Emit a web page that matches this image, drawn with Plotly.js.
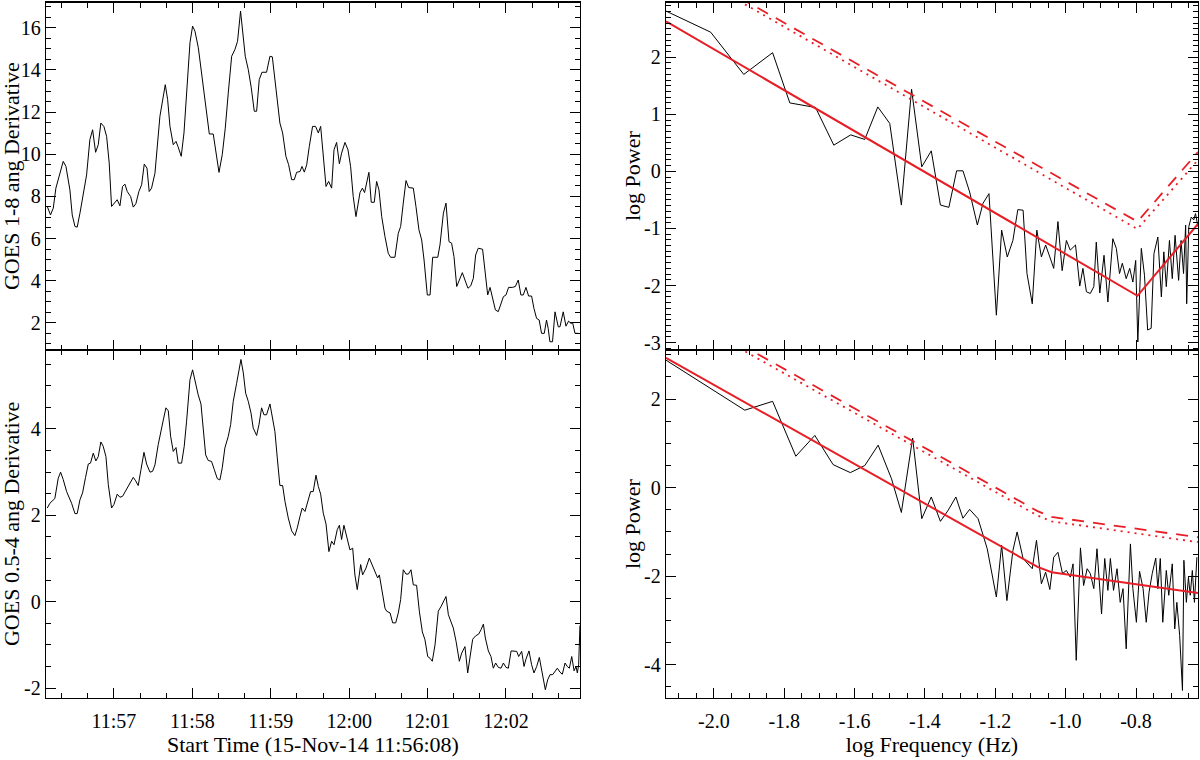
<!DOCTYPE html>
<html>
<head>
<meta charset="utf-8">
<script src="https://cdn.plot.ly/plotly-3.0.1.min.js"></script>
<style>
  body { margin: 0; background: #fff; }
  #chart { width: 1200px; height: 760px; }
</style>
</head>
<body>
<div id="chart"></div>
<script>
// GOES 1-8 ang derivative, seconds after 11:56:08
var topTime = [1.0,3.5,5.6,7.6,13.2,15.3,18.3,20.1,22.2,23.9,26.0,28.0,31.1,33.6,35.7,38.0,40.0,42.0,44.3,46.4,48.4,50.2,54.5,56.6,58.6,60.4,62.2,64.8,66.8,68.8,71.1,73.2,75.2,77.3,79.0,80.8,83.4,87.2,89.2,91.3,93.1,94.9,97.4,99.5,101.0,103.5,105.6,107.6,110.2,112.2,114.0,116.6,118.6,120.9,122.9,125.0,128.0,130.1,132.4,134.9,137.2,139.5,142.1,144.6,146.6,148.9,150.7,152.5,154.8,157.1,159.4,161.2,163.2,165.3,168.8,171.4,173.2,175.2,177.3,179.0,181.1,183.6,185.7,188.0,190.0,191.8,194.4,195.9,197.7,199.5,201.5,204.0,206.3,208.4,210.2,212.2,214.3,216.3,218.6,220.4,222.4,224.5,226.2,228.8,231.1,233.1,235.1,237.2,240.3,242.1,243.8,247.1,248.9,251.2,253.0,254.8,256.9,259.4,261.9,263.7,267.0,269.6,271.4,273.4,275.5,277.5,281.1,283.1,285.4,287.5,289.3,291.8,293.9,295.9,299.8,301.5,304.1,306.1,308.4,310.4,312.2,314.3,316.3,318.6,320.6,322.9,325.0,327.0,328.8,330.8,334.1,335.9,338.0,339.8,341.8,343.9,346.1,347.9,350.0,352.0,354.0,356.8,359.1,361.4,363.4,365.2,367.3,369.3,371.6,373.4,375.4,377.4,379.2,381.3,383.0,384.3,385.6,387.6,389.5,392.0,393.3,395.8,397.9,399.9,401.7,403.0,404.8,407.3];
var topDeriv = [7.52,7.12,7.44,8.39,9.66,9.42,8.31,7.12,6.57,6.54,7.20,7.84,9.02,10.69,11.16,10.09,10.45,11.48,11.32,10.85,9.58,7.52,7.84,7.55,8.47,8.58,8.23,7.99,7.49,7.65,8.23,8.55,9.53,9.34,8.23,8.39,9.10,11.80,12.59,13.30,12.59,11.32,10.45,10.61,10.37,9.90,11.01,12.91,15.29,16.08,15.84,15.05,14.10,13.07,12.11,10.96,10.96,10.05,9.14,9.98,11.24,12.91,14.65,14.97,15.36,16.79,15.76,14.65,14.02,13.15,12.04,12.04,13.54,13.89,13.89,14.65,14.62,13.54,12.12,11.48,11.01,9.90,9.50,8.79,8.79,9.14,9.18,9.42,9.15,9.50,10.37,11.32,11.32,11.01,11.32,9.90,8.47,8.71,8.39,10.21,10.56,9.55,10.05,10.56,10.21,9.42,7.99,7.04,8.18,8.39,8.18,9.14,7.72,7.72,8.71,8.31,7.04,6.09,5.30,5.11,5.11,6.25,6.57,7.68,8.75,8.42,8.39,7.52,6.41,5.93,4.98,3.32,3.32,5.11,5.11,5.70,7.20,7.68,5.85,5.78,5.14,3.72,4.03,4.38,4.03,3.64,3.75,4.11,5.22,5.54,5.49,4.35,3.32,3.68,3.08,2.61,2.53,2.84,3.24,3.32,3.68,3.68,3.72,4.03,3.32,3.32,3.68,3.27,3.27,2.68,2.21,2.13,1.50,1.50,2.13,1.73,1.10,1.10,2.52,1.81,1.81,2.52,1.84,2.08,1.97,2.00,1.50,1.50];

// GOES 0.5-4 ang derivative
var botTime = [1.0,3.0,6.8,9.4,11.2,13.2,15.8,17.8,19.6,22.2,23.9,26.0,28.0,30.3,32.4,34.1,36.2,38.2,40.0,42.0,43.8,45.9,47.7,50.2,52.0,54.5,56.6,58.6,60.7,63.0,64.8,66.8,68.6,70.6,72.7,75.0,77.0,79.6,81.6,83.4,85.9,87.7,89.8,91.8,93.6,95.4,97.4,99.5,101.2,103.8,105.8,107.6,110.2,112.2,114.2,116.5,118.6,120.4,122.2,124.2,126.7,128.8,131.1,133.1,134.9,136.9,139.5,141.3,143.3,145.9,147.9,149.2,151.0,152.8,154.8,156.9,158.6,161.2,163.0,165.0,166.8,168.8,171.4,173.2,175.2,177.0,179.0,181.1,182.9,185.4,188.0,190.5,192.3,194.4,196.1,198.2,200.7,202.5,204.5,206.6,208.4,210.2,212.2,214.3,216.5,218.6,220.4,222.9,224.5,226.2,228.0,230.1,232.6,234.7,236.4,238.2,240.8,242.3,244.9,247.4,249.5,251.8,253.8,255.1,257.4,259.4,260.7,263.3,265.3,267.6,269.6,271.4,273.4,275.5,277.3,279.3,281.1,283.6,285.7,288.0,290.0,292.1,293.9,295.6,297.7,300.2,302.3,304.6,306.1,307.9,309.7,311.7,313.8,316.3,318.1,320.6,322.7,324.4,326.5,328.8,331.1,332.9,334.7,336.2,338.5,340.5,342.3,344.1,346.1,348.2,350.0,352.0,353.8,355.9,357.7,360.2,361.7,364.0,365.8,367.3,369.6,371.6,373.4,375.5,377.5,379.3,381.3,382.1,383.9,385.7,387.7,389.5,391.3,393.3,395.1,397.2,398.9,400.5,402.3,404.1,405.6,406.6,407.6,408.6];
var botDeriv = [2.17,2.28,2.39,2.86,3.00,2.83,2.55,2.42,2.28,2.04,2.04,2.36,2.52,2.88,3.19,3.21,3.44,3.26,3.36,3.70,3.60,3.36,2.71,2.17,2.25,2.49,2.42,2.44,2.55,2.69,2.75,2.88,2.80,2.69,3.06,3.46,3.19,3.00,3.02,3.17,3.64,3.87,4.21,4.49,4.42,3.83,3.48,3.57,3.21,3.21,3.60,4.18,5.14,5.37,5.06,4.79,4.58,4.02,3.40,3.27,3.25,3.06,2.85,2.82,3.10,3.56,3.83,4.10,4.64,5.06,5.41,5.61,5.30,4.83,4.64,4.37,4.02,3.85,4.10,4.49,4.33,4.33,4.58,4.25,3.94,3.33,2.69,2.69,2.32,1.94,1.64,1.53,1.71,1.98,2.17,2.09,2.38,2.55,2.55,2.93,2.67,2.49,2.05,1.80,1.16,1.40,1.32,1.67,1.77,1.44,1.77,1.51,1.20,1.24,0.62,0.28,0.86,0.62,0.78,1.01,0.86,0.66,0.55,0.62,0.16,-0.15,-0.22,-0.26,-0.49,-0.49,-0.26,0.05,0.74,0.64,0.64,0.74,0.39,0.38,-0.22,-0.70,-0.88,-1.27,-1.31,-1.38,-1.00,-0.22,-0.11,0.05,0.12,-0.30,-0.46,-0.61,-0.92,-1.38,-1.19,-1.04,-1.65,-1.31,-0.87,-0.79,-0.75,-0.65,-0.52,-0.84,-1.14,-1.27,-1.54,-1.42,-1.52,-1.54,-1.42,-1.52,-1.54,-1.14,-1.14,-1.15,-1.27,-1.15,-1.50,-1.33,-1.14,-1.46,-1.65,-1.50,-1.29,-1.58,-1.85,-2.04,-1.81,-1.69,-1.69,-1.62,-1.54,-1.63,-1.68,-1.42,-1.50,-1.54,-1.27,-1.60,-1.50,-1.65,-1.46,-0.55];

// time ticks
var timeTickSecs = [52, 112, 172, 232, 292, 352];
var timeTickText = ['11:57', '11:58', '11:59', '12:00', '12:01', '12:02'];

// power spectrum of the 1-8 ang derivative (log10 frequency, log10 power)
var freqTop = [-2.136,-2.009,-1.915,-1.833,-1.784,-1.711,-1.659,-1.611,-1.571,-1.534,-1.500,-1.467,-1.438,-1.409,-1.382,-1.356,-1.332,-1.310,-1.292,-1.273,-1.251,-1.235,-1.218,-1.197,-1.182,-1.166,-1.150,-1.136,-1.121,-1.110,-1.095,-1.082,-1.069,-1.057,-1.045,-1.034,-1.022,-1.010,-0.998,-0.987,-0.972,-0.960,-0.951,-0.941,-0.930,-0.920,-0.913,-0.903,-0.891,-0.880,-0.866,-0.856,-0.847,-0.839,-0.828,-0.818,-0.809,-0.801,-0.795,-0.785,-0.776,-0.767,-0.757,-0.749,-0.738,-0.728,-0.721,-0.714,-0.705,-0.697,-0.689,-0.679,-0.672,-0.665,-0.659,-0.656,-0.650,-0.643,-0.636,-0.631,-0.624];
var powTop = [2.81,2.44,1.70,2.08,1.20,1.12,0.46,0.64,0.56,1.13,0.84,-0.59,1.44,0.08,0.36,-0.59,-0.63,0.01,0.01,-0.36,-0.94,-0.56,-0.39,-2.52,-1.03,-1.50,-1.21,-0.67,-0.68,-1.79,-2.32,-1.03,-1.50,-1.29,-1.50,-1.70,-0.88,-1.74,-1.21,-1.38,-1.29,-2.01,-1.70,-2.11,-2.14,-2.02,-1.24,-2.13,-1.47,-2.29,-1.18,-1.35,-1.79,-1.61,-1.88,-1.70,-1.94,-1.56,-2.99,-1.35,-1.82,-2.78,-2.75,-1.44,-1.15,-2.20,-1.41,-2.02,-1.21,-1.88,-1.12,-1.91,-1.21,-1.79,-0.94,-2.32,-0.97,-0.80,-0.85,-0.74,-0.97];

// broken power-law fit and confidence levels, 1-8 ang
var fitFreqTop = [-2.136, -0.796, -0.624];
var fitTop = [2.63, -2.18, -0.92];
var dashTop = [3.77, -0.88, 0.34];
var dotTop = [3.72, -1.01, 0.20];

// power spectrum of the 0.5-4 ang derivative
var freqBot = [-2.136,-2.009,-1.912,-1.833,-1.767,-1.713,-1.661,-1.612,-1.571,-1.533,-1.495,-1.467,-1.435,-1.409,-1.382,-1.356,-1.334,-1.312,-1.292,-1.273,-1.249,-1.223,-1.197,-1.182,-1.167,-1.150,-1.138,-1.121,-1.107,-1.095,-1.083,-1.069,-1.057,-1.045,-1.034,-1.022,-1.009,-0.998,-0.987,-0.979,-0.970,-0.958,-0.949,-0.939,-0.930,-0.920,-0.911,-0.898,-0.889,-0.880,-0.873,-0.864,-0.854,-0.845,-0.837,-0.828,-0.816,-0.809,-0.799,-0.790,-0.780,-0.771,-0.763,-0.754,-0.744,-0.738,-0.731,-0.724,-0.714,-0.707,-0.697,-0.690,-0.684,-0.676,-0.668,-0.664,-0.657,-0.651,-0.646,-0.640,-0.634,-0.627];
var powBot = [2.88,2.24,1.75,1.95,0.71,1.18,0.52,0.34,0.50,0.96,0.20,-0.56,1.12,-0.70,-0.21,-0.76,-0.51,-0.21,-0.69,-0.49,-0.70,-1.38,-2.47,-1.30,-2.55,-1.42,-1.00,-1.60,-1.72,-1.83,-1.19,-2.17,-1.91,-2.30,-1.57,-1.46,-1.94,-1.87,-2.02,-1.72,-3.90,-1.36,-2.21,-1.83,-1.94,-2.28,-1.38,-2.85,-1.60,-2.32,-1.60,-2.32,-1.83,-2.59,-2.28,-3.64,-1.27,-2.28,-3.04,-1.89,-2.28,-3.04,-2.36,-1.94,-1.59,-2.28,-1.60,-3.04,-1.87,-2.43,-1.72,-3.19,-2.59,-3.34,-4.58,-1.64,-2.59,-2.02,-2.43,-1.87,-2.59,-1.57];

// broken power-law fit and confidence levels, 0.5-4 ang
var fitFreqBot = [-2.136, -1.08, -1.04, -0.624];
var fitBot = [2.93, -1.79, -1.91, -2.38];
var dashBot = [4.18, -0.53, -0.66, -1.12];
var dotBot = [4.08, -0.63, -0.76, -1.23];

var freqTickVals = [-2.0, -1.8, -1.6, -1.4, -1.2, -1.0, -0.8];
var freqTickText = ['-2.0', '-1.8', '-1.6', '-1.4', '-1.2', '-1.0', '-0.8'];

var red = 'rgb(232,30,38)';
var font = { family: 'Liberation Serif, Times New Roman, serif', size: 22, color: '#000' };
var tickFont = { family: 'Liberation Serif, Times New Roman, serif', size: 20, color: '#000' };

function axisBase(extra) {
  var a = {
    showline: true, linecolor: '#000', linewidth: 1.3, mirror: 'allticks',
    ticks: 'inside', ticklen: 10, tickwidth: 1, tickcolor: '#000',
    showgrid: false, zeroline: false, fixedrange: true,
    tickfont: tickFont
  };
  for (var k in extra) a[k] = extra[k];
  return a;
}

var blackLine = { color: '#000', width: 1 };

var data = [
  { x: topTime, y: topDeriv, xaxis: 'x', yaxis: 'y', mode: 'lines', line: blackLine },
  { x: botTime, y: botDeriv, xaxis: 'x2', yaxis: 'y2', mode: 'lines', line: blackLine },

  { x: freqTop, y: powTop, xaxis: 'x3', yaxis: 'y3', mode: 'lines', line: blackLine },
  { x: fitFreqTop, y: fitTop, xaxis: 'x3', yaxis: 'y3', mode: 'lines', line: { color: red, width: 2 } },
  { x: fitFreqTop, y: dashTop, xaxis: 'x3', yaxis: 'y3', mode: 'lines', line: { color: red, width: 1.8, dash: '12px,9px' } },
  { x: fitFreqTop, y: dotTop, xaxis: 'x3', yaxis: 'y3', mode: 'lines', line: { color: red, width: 1.8, dash: '2px,5px' } },

  { x: freqBot, y: powBot, xaxis: 'x4', yaxis: 'y4', mode: 'lines', line: blackLine },
  { x: fitFreqBot, y: fitBot, xaxis: 'x4', yaxis: 'y4', mode: 'lines', line: { color: red, width: 2 } },
  { x: fitFreqBot, y: dashBot, xaxis: 'x4', yaxis: 'y4', mode: 'lines', line: { color: red, width: 1.8, dash: '12px,9px' } },
  { x: fitFreqBot, y: dotBot, xaxis: 'x4', yaxis: 'y4', mode: 'lines', line: { color: red, width: 1.8, dash: '2px,5px' } }
];

var leftDom = [0.0383, 0.4833];
var rightDom = [0.555, 0.9983];
var topDom = [0.5395, 0.9967];
var botDom = [0.0816, 0.5395];

var timeX = {
  range: [0, 408.6], tickmode: 'array', tickvals: timeTickSecs, ticktext: timeTickText,
  ticklabelstandoff: 5,
  minor: { ticks: 'inside', ticklen: 5, tickcolor: '#000', tick0: 12, dtick: 20 }
};
var freqX = {
  range: [-2.136, -0.624], tickmode: 'array', tickvals: freqTickVals, ticktext: freqTickText,
  ticklabelstandoff: 5,
  minor: { ticks: 'inside', ticklen: 5, tickcolor: '#000', tick0: 0, dtick: 0.05 }
};

// y titles placed as rotated annotations so they sit where the original puts them
function yTitle(text, x, y) {
  return { text: text, xref: 'paper', yref: 'paper', x: x, y: y, textangle: -90,
           showarrow: false, xanchor: 'center', yanchor: 'middle', font: font };
}

var layout = {
  width: 1200, height: 760,
  margin: { l: 0, r: 0, t: 0, b: 0 },
  paper_bgcolor: '#fff', plot_bgcolor: '#fff',
  showlegend: false,
  font: font,
  xaxis: axisBase(Object.assign({ domain: leftDom, anchor: 'y', showticklabels: false }, timeX)),
  yaxis: axisBase({
    domain: topDom, anchor: 'x', range: [0.71, 17.2], tickmode: 'linear', tick0: 0, dtick: 2,
    minor: { ticks: 'inside', ticklen: 5, tickcolor: '#000', dtick: 0.5 }
  }),
  xaxis2: axisBase(Object.assign({
    domain: leftDom, anchor: 'y2',
    title: { text: 'Start Time (15-Nov-14 11:56:08)', font: font, standoff: 4 }
  }, timeX)),
  yaxis2: axisBase({
    domain: botDom, anchor: 'x2', range: [-2.23, 5.83], tickmode: 'array',
    tickvals: [-2, 0, 2, 4], ticktext: ['-2', '0', '2', '4'],
    minor: { ticks: 'inside', ticklen: 5, tickcolor: '#000', tick0: 0, dtick: 0.5 }
  }),
  xaxis3: axisBase(Object.assign({ domain: rightDom, anchor: 'y3', showticklabels: false }, freqX)),
  yaxis3: axisBase({
    domain: topDom, anchor: 'x3', range: [-3.13, 2.96], tickmode: 'array',
    tickvals: [-3, -2, -1, 0, 1, 2], ticktext: ['-3', '-2', '-1', '0', '1', '2'],
    minor: { ticks: 'inside', ticklen: 5, tickcolor: '#000', tick0: 0, dtick: 0.1 }
  }),
  xaxis4: axisBase(Object.assign({
    domain: rightDom, anchor: 'y4',
    title: { text: 'log Frequency (Hz)', font: font, standoff: 4 }
  }, freqX)),
  yaxis4: axisBase({
    domain: botDom, anchor: 'x4', range: [-4.75, 3.11], tickmode: 'array',
    tickvals: [-4, -2, 0, 2], ticktext: ['-4', '-2', '0', '2'],
    minor: { ticks: 'inside', ticklen: 5, tickcolor: '#000', tick0: 0, dtick: 0.5 }
  }),
  annotations: [
    yTitle('GOES 1-8 ang Derivative', 0.0092, 0.7684),
    yTitle('GOES 0.5-4 ang Derivative', 0.0092, 0.3105),
    yTitle('log Power', 0.5267, 0.7684),
    yTitle('log Power', 0.5267, 0.3105)
  ]
};

Plotly.newPlot('chart', data, layout, { staticPlot: true, displayModeBar: false });
</script>
</body>
</html>
